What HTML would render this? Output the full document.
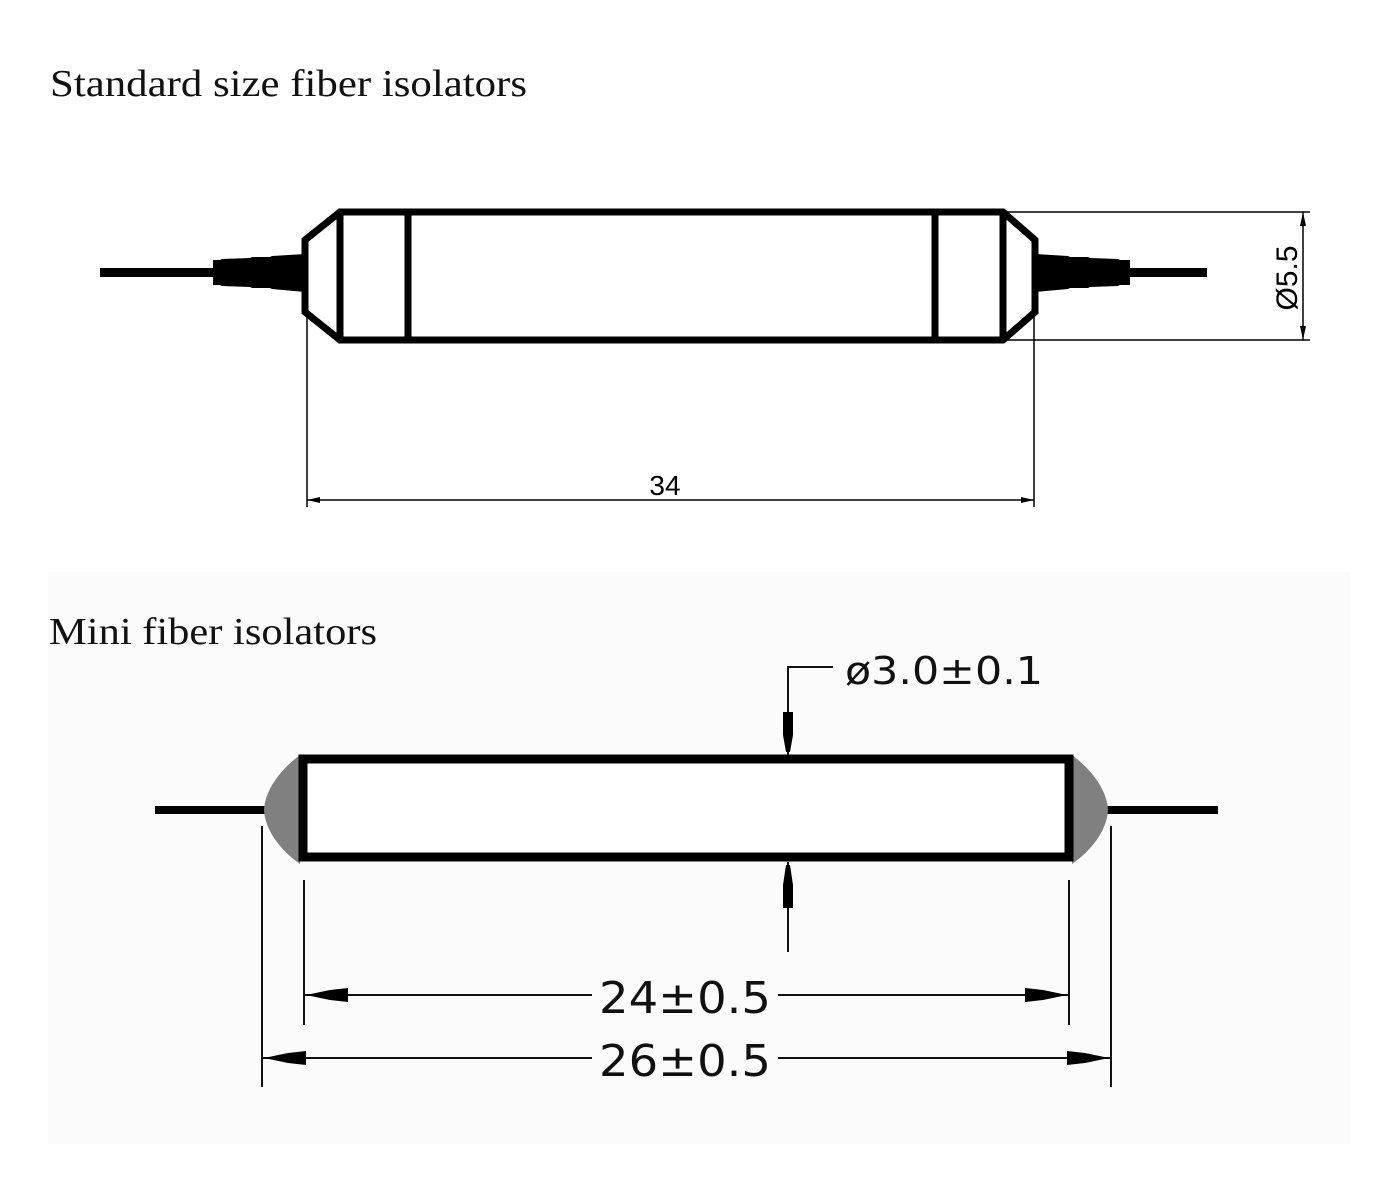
<!DOCTYPE html>
<html><head><meta charset="utf-8"><style>html,body{margin:0;padding:0;background:#fff}svg{display:block}</style></head>
<body>
<svg width="1400" height="1200" viewBox="0 0 1400 1200" xmlns="http://www.w3.org/2000/svg">
<rect x="0" y="0" width="1400" height="1200" fill="#fff"/>
<rect x="48" y="572" width="1302" height="572" fill="#fbfbfb"/>
<text x="50" y="96" font-family="Liberation Serif, serif" font-size="38" fill="#111" textLength="477" lengthAdjust="spacingAndGlyphs">Standard size fiber isolators</text>
<text x="49" y="644" font-family="Liberation Serif, serif" font-size="38" fill="#111" textLength="328" lengthAdjust="spacingAndGlyphs">Mini fiber isolators</text>

<!-- top isolator -->
<g fill="#000">
<rect x="100" y="268" width="120" height="9"/>
<polygon points="213,260 220,260 222,259 250,258 252,257 270,257 272,256 305,254 305,292 272,289 270,288 252,288 250,287 222,286 220,285 213,285"/>
<rect x="1120" y="268" width="87" height="9"/>
<polygon points="1035,254 1068,256 1070,257 1088,257 1090,258 1118,259 1120,260 1130,260 1130,285 1120,285 1118,286 1090,287 1088,288 1070,288 1068,289 1035,292"/>
</g>
<g fill="none" stroke="#000" stroke-width="7" stroke-linejoin="miter">
<polygon points="305,240 340,212 1003,212 1035,240 1035,312 1003,340 340,340 305,312" fill="#fff"/>
<line x1="340" y1="212" x2="340" y2="340"/>
<line x1="408" y1="212" x2="408" y2="340"/>
<line x1="935" y1="212" x2="935" y2="340"/>
<line x1="1003" y1="212" x2="1003" y2="340"/>
</g>
<g stroke="#000" stroke-width="1.5" fill="none">
<line x1="307" y1="314" x2="307" y2="507"/>
<line x1="1034" y1="314" x2="1034" y2="507"/>
<line x1="307" y1="500" x2="1034" y2="500"/>
<line x1="1006" y1="212" x2="1310" y2="212"/>
<line x1="1006" y1="340" x2="1310" y2="340"/>
<line x1="1303" y1="212" x2="1303" y2="340"/>
</g>
<g fill="#000">
<polygon points="307,500 320,497 320,503"/>
<polygon points="1034,500 1021,497 1021,503"/>
<polygon points="1303,212 1300,226 1306,226"/>
<polygon points="1303,340 1300,326 1306,326"/>
</g>
<text x="665" y="495" text-anchor="middle" font-family="Liberation Sans, sans-serif" font-size="28" fill="#000">34</text>
<text transform="translate(1297,278) rotate(-90)" text-anchor="middle" font-family="Liberation Sans, sans-serif" font-size="30" fill="#000">Ø5.5</text>

<!-- mini isolator -->
<rect x="155" y="806" width="112" height="8" fill="#000"/>
<rect x="1106" y="806" width="112" height="8" fill="#000"/>
<path d="M300,755 C280,770 265,790 264,810 C265,830 280,850 300,864 Z" fill="#808080"/>
<path d="M1072,755 C1092,770 1107,790 1108,810 C1107,830 1092,850 1072,864 Z" fill="#808080"/>
<rect x="303" y="759" width="766" height="98" fill="#fff" stroke="#000" stroke-width="9"/>
<g stroke="#111" stroke-width="2" fill="none">
<polyline points="833,667 788,667 788,755"/>
<line x1="788" y1="862" x2="788" y2="952"/>
<line x1="304" y1="880" x2="304" y2="1025"/>
<line x1="1069" y1="880" x2="1069" y2="1025"/>
<line x1="262" y1="826" x2="262" y2="1087"/>
<line x1="1111" y1="826" x2="1111" y2="1087"/>
<line x1="304" y1="995" x2="592" y2="995"/>
<line x1="778" y1="995" x2="1069" y2="995"/>
<line x1="262" y1="1058" x2="592" y2="1058"/>
<line x1="778" y1="1058" x2="1111" y2="1058"/>
</g>
<g fill="#000">
<polygon points="783,712 793,712 793,735 790,752 786,752 783,735"/>
<polygon points="783,908 793,908 793,885 790,865 786,865 783,885"/>
<polygon points="306,995 330,990 348,988 348,1002 330,1000"/>
<polygon points="1067,995 1043,990 1025,988 1025,1002 1043,1000"/>
<polygon points="264,1058 288,1053 306,1051 306,1065 288,1063"/>
<polygon points="1109,1058 1085,1053 1067,1051 1067,1065 1085,1063"/>
</g>
<text x="845" y="684" font-family="DejaVu Sans, sans-serif" font-size="38" fill="#111" textLength="198" lengthAdjust="spacingAndGlyphs">ø3.0±0.1</text>
<text x="685" y="1013" text-anchor="middle" font-family="DejaVu Sans, sans-serif" font-size="44" fill="#111" textLength="172" lengthAdjust="spacingAndGlyphs">24±0.5</text>
<text x="685" y="1076" text-anchor="middle" font-family="DejaVu Sans, sans-serif" font-size="44" fill="#111" textLength="172" lengthAdjust="spacingAndGlyphs">26±0.5</text>
</svg>
</body></html>
